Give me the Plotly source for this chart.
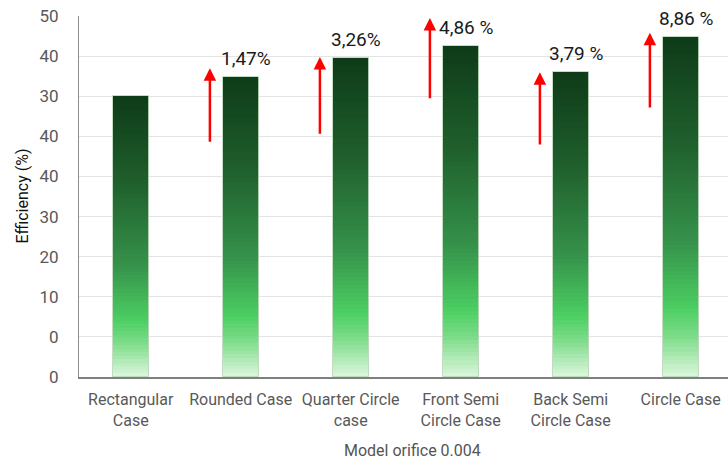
import plotly.graph_objects as go

# Orifice geometry cases and measured efficiency (axis units)
categories = ["Rectangular<br>Case", "Rounded Case", "Quarter Circle<br>case",
              "Front Semi<br>Circle Case", "Back Semi<br>Circle Case", "Circle Case"]
efficiency = [70.1, 74.9, 79.5, 82.4, 76.0, 84.7]

# Gain over the rectangular case, shown above bars 2..6
gain_labels = ["", "1,47%", "3,26%", "4,86 %", "3,79 %", "8,86 %"]

# Y axis tick values and the labels printed at them
y_tickvals = [0, 10, 20, 30, 40, 50, 60, 70, 80, 90]
y_ticktext = ["0", "0", "10", "20", "30", "40", "40", "30", "40", "50"]

# Red arrow tail/tip offsets relative to each bar top
arrow_tail = [None, -16.6, -19.2, -13.3, -18.4, -17.9]
arrow_tip = [None, 2.1, 0.3, 7.1, 0.0, 1.1]

x_idx = list(range(len(categories)))

# Vertical gradient stops (0 = bar top, 1 = bar bottom)
stops = [
    (0.00, (14, 59, 24)),
    (0.30, (31, 94, 44)),
    (0.60, (53, 145, 74)),
    (0.80, (76, 207, 98)),
    (0.88, (126, 220, 138)),
    (1.00, (220, 246, 220)),
]


def grad_color(t):
    for (t0, c0), (t1, c1) in zip(stops[:-1], stops[1:]):
        if t <= t1:
            u = (t - t0) / (t1 - t0) if t1 > t0 else 0
            c = [round(a + (b - a) * u) for a, b in zip(c0, c1)]
            return f"rgb({c[0]},{c[1]},{c[2]})"
    c = stops[-1][1]
    return f"rgb({c[0]},{c[1]},{c[2]})"


fig = go.Figure()
N = 80
bar_w = 0.33
for i in range(N):
    f = (i + 0.5) / N
    fig.add_trace(go.Bar(
        x=x_idx,
        y=[v / N for v in efficiency],
        base=[v * i / N for v in efficiency],
        width=bar_w,
        marker=dict(color=grad_color(1 - f), line=dict(width=0)),
        showlegend=False,
        hoverinfo="skip",
    ))

# thin light outline around each bar
fig.add_trace(go.Bar(
    x=x_idx, y=efficiency, width=bar_w,
    marker=dict(color="rgba(0,0,0,0)", line=dict(color="rgba(190,215,190,0.9)", width=1)),
    showlegend=False, hoverinfo="skip",
))

annotations = []
for i, v in enumerate(efficiency):
    if gain_labels[i]:
        annotations.append(dict(
            x=i + 0.05, y=v, xref="x", yref="y", text=gain_labels[i],
            showarrow=False, yanchor="bottom", yshift=5,
            font=dict(family="Roboto", size=19, color="#1a1a1a"),
        ))
    if arrow_tail[i] is not None:
        annotations.append(dict(
            x=i - 0.28, y=v + arrow_tip[i], ax=i - 0.28, ay=v + arrow_tail[i],
            xref="x", yref="y", axref="x", ayref="y", text="",
            showarrow=True, arrowhead=2, arrowsize=1.0, arrowwidth=2.5,
            arrowcolor="#ff0000", standoff=0, startstandoff=0,
        ))

annotations.append(dict(
    x=(22 - 79) / 649, y=0.5, xref="paper", yref="paper", text="Efficiency (%)",
    textangle=-90, showarrow=False, xanchor="center", yanchor="middle",
    font=dict(family="Roboto", size=16, color="#111111"),
))
annotations.append(dict(
    x=(412 - 79) / 649, y=(377 - 450) / 361, xref="paper", yref="paper",
    text="Model orifice 0.004", showarrow=False, xanchor="center", yanchor="middle",
    font=dict(family="Roboto", size=16, color="#555555"),
))

fig.update_layout(
    width=728, height=463,
    margin=dict(l=79, r=0, t=16, b=86),
    plot_bgcolor="white", paper_bgcolor="white",
    barmode="overlay", bargap=0,
    annotations=annotations,
    font=dict(family="Roboto", color="#595959"),
)
fig.update_xaxes(
    range=[-0.47, 5.43], tickvals=x_idx, ticktext=categories,
    showline=True, linecolor="#7f7f7f", linewidth=2,
    showgrid=False, ticks="", tickfont=dict(size=16, color="#595959"),
    ticklabelstandoff=7,
)
fig.update_yaxes(
    range=[0, 90], tickvals=y_tickvals, ticktext=y_ticktext,
    showline=True, linecolor="#8c8c8c", linewidth=1,
    showgrid=True, gridcolor="#e4e4e4", gridwidth=1, zeroline=False,
    ticks="", tickfont=dict(size=17, color="#595959"), ticklabelstandoff=16,
)

fig.write_html("out.html")
